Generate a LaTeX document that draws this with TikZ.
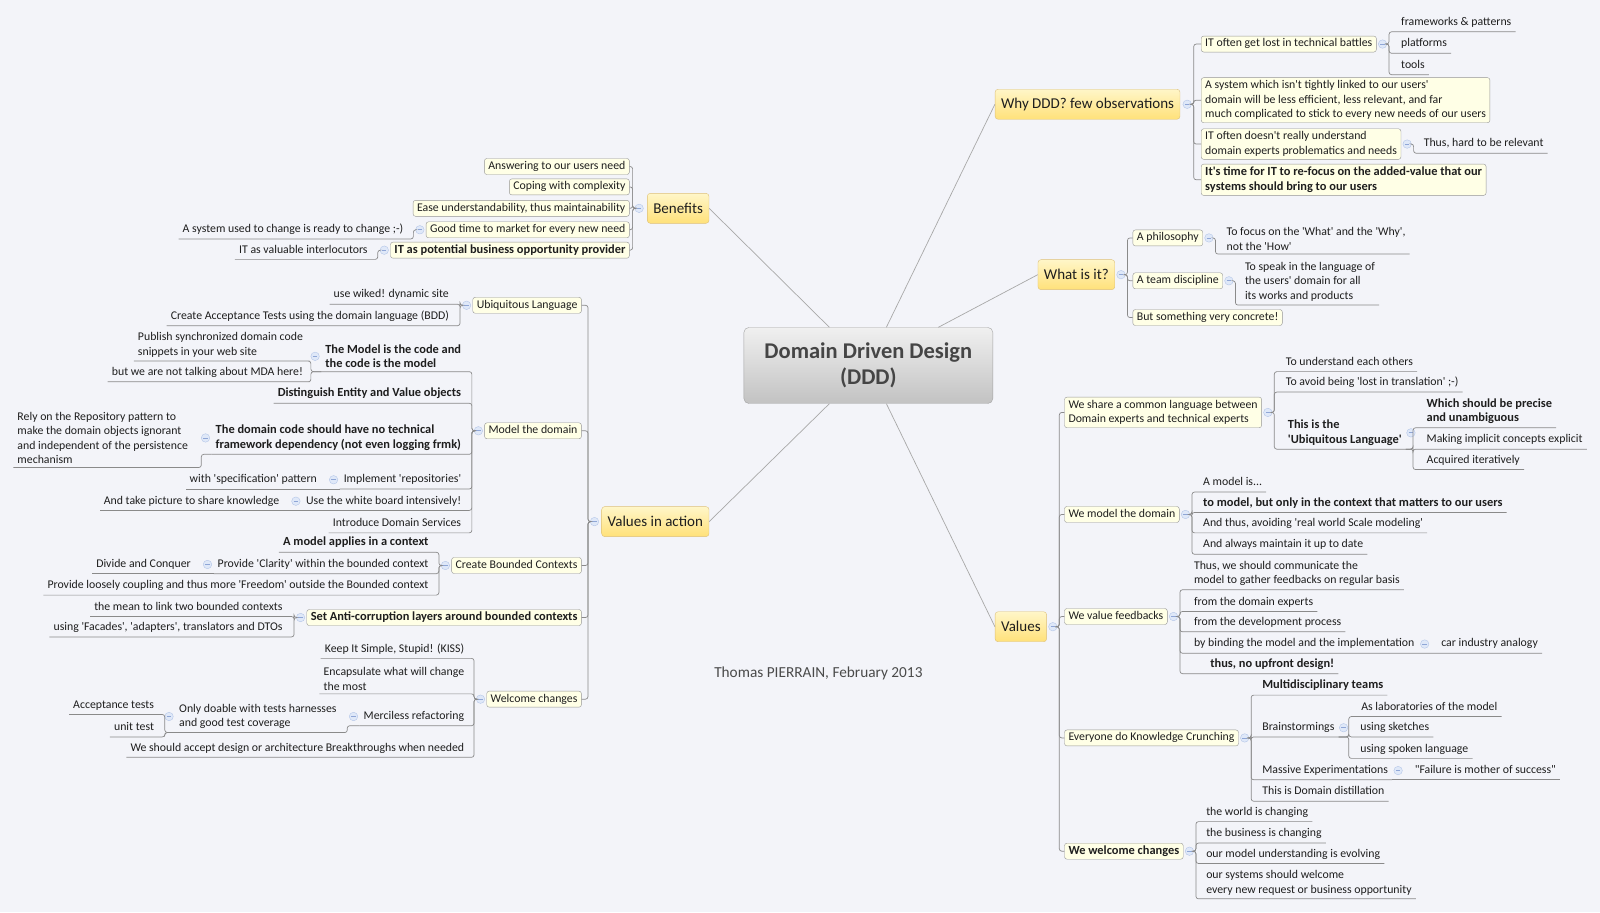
\documentclass[tikz,border=0pt]{standalone}
\usepackage{fontspec}
\setmainfont{Carlito}[Ligatures=TeXOff]

\definecolor{paper}{HTML}{F3F4F9}
\definecolor{rootline}{HTML}{A2A2A2}
\definecolor{roottop}{HTML}{F0F0F0}
\definecolor{rootbot}{HTML}{C2C2C2}
\definecolor{roottext}{HTML}{454545}
\definecolor{topicline}{HTML}{DDC07A}
\definecolor{topictop}{HTML}{FFF6C8}
\definecolor{topicbot}{HTML}{FFE17A}
\definecolor{subline}{HTML}{959595}
\definecolor{subfill}{HTML}{FFFFE6}
\definecolor{wiregray}{HTML}{8A8A8A}
\definecolor{spokegray}{HTML}{A8A8A8}
\definecolor{togline}{HTML}{B4C6E8}
\definecolor{togfill}{HTML}{DFE8F8}
\definecolor{togbar}{HTML}{8FA6D6}
\definecolor{ink}{HTML}{1E1E1E}
\definecolor{signgray}{HTML}{4A4A4A}

\newcommand{\leaffont}{\fontsize{11.8}{14.5}\selectfont}
\newcommand{\hotfont}{\fontsize{12.4}{14.5}\selectfont\bfseries}

\tikzset{
  root/.style={draw=rootline, rounded corners=5pt, top color=roottop, bottom color=rootbot,
    text=roottext, font=\fontsize{22.5}{26.5}\selectfont\bfseries, align=center,
    minimum width=249pt, minimum height=76pt},
  topic/.style={draw=topicline, rounded corners=3pt, top color=topictop, bottom color=topicbot,
    text=ink, font=\fontsize{15}{18}\selectfont, inner xsep=6pt, minimum height=30pt},
  sub/.style={draw=subline, rounded corners=2.5pt, fill=subfill, text=ink, font=\leaffont,
    inner xsep=4pt, inner ysep=2.5pt, text height=8.4pt, text depth=2.6pt},
  subml/.style={draw=subline, rounded corners=2.5pt, fill=subfill, text=ink, font=\leaffont,
    inner xsep=4pt, inner ysep=3pt, align=left},
  leaf/.style={text=ink, font=\leaffont, inner xsep=4pt, inner ysep=3.5pt,
    text height=8.4pt, text depth=2.6pt},
  leafml/.style={text=ink, font=\leaffont, inner xsep=4pt, inner ysep=3.5pt, align=left},
  hot/.style={font=\hotfont},
  toggle/.style={circle, draw=togline, fill=togfill, inner sep=0pt, minimum size=8.5pt,
    path picture={\draw[togbar, line width=0.8pt]
      ([xshift=-2.2pt]path picture bounding box.center) --
      ([xshift=2.2pt]path picture bounding box.center);}},
  wire/.style={draw=wiregray, line width=0.7pt, rounded corners=2.5pt},
  spoke/.style={draw=spokegray, line width=0.7pt},
  signature/.style={text=signgray, font=\fontsize{15.3}{18}\selectfont}
}

\begin{document}
\begin{tikzpicture}[x=1.0204pt, y=-1.0204pt]
  % Draw the background
  \fill[paper] (0,0) rectangle (1568,894);
  \useasboundingbox (0,0) rectangle (1568,894);

  \begin{scope}[yshift=-1.2pt]
  % Draw the central topic and the main topics
  \node[root] (ddd) at (851,357) {Domain Driven Design\\(DDD)};
  \node[topic, anchor=west] (why) at (975,101) {Why DDD? few observations};
  \node[topic, anchor=west] (what) at (1017,268) {What is it?};
  \node[topic, anchor=west] (values) at (975,613) {Values};
  \node[topic, anchor=east] (benefits) at (695,203) {Benefits};
  \node[topic, anchor=east] (action) at (695,510) {Values in action};

  \node[signature] (author) at (802,659) {Thomas PIERRAIN, February 2013};

  % Draw the spokes from the central topic
  \draw[spoke] ([xshift=-39pt]ddd.north) -- (benefits.east);
  \draw[spoke] ([xshift=18pt]ddd.north) -- (why.west);
  \draw[spoke] ([xshift=70pt]ddd.north) -- (what.west);
  \draw[spoke] ([xshift=-39pt]ddd.south) -- (action.east);
  \draw[spoke] ([xshift=18pt]ddd.south) -- (values.west);

  % Draw the toggles of the main topics
  \node[toggle] (t-why) at ([xshift=7pt]why.east) {};
  \node[toggle] (t-what) at ([xshift=6pt]what.east) {};
  \node[toggle] (t-values) at ([xshift=6pt]values.east) {};
  \node[toggle] (t-benefits) at ([xshift=-8pt]benefits.west) {};
  \node[toggle] (t-action) at ([xshift=-7pt]action.west) {};

  % Branch: Why DDD? few observations
  \node[sub, anchor=west] (lost) at (1177,42) {IT often get lost in technical battles};
  \node[subml, anchor=west] (linked) at (1177,97) {A system which isn't tightly linked to our users'\\domain will be less efficient, less relevant, and far\\much complicated to stick to every new needs of our users};
  \node[subml, anchor=west] (understand) at (1177,140) {IT often doesn't really understand\\domain experts problematics and needs};
  \node[subml, hot, anchor=west] (refocus) at (1177,175) {It's time for IT to re-focus on the added-value that our\\systems should bring to our users};
  \draw[wire] (t-why.east) -- ++(2,0) |- (lost.west);
  \draw[wire] (t-why.east) -- ++(2,0) |- (linked.west);
  \draw[wire] (t-why.east) -- ++(2,0) |- (understand.west);
  \draw[wire] (t-why.east) -- ++(2,0) |- (refocus.west);

  \node[toggle] (t-lost) at ([xshift=6pt]lost.east) {};
  \node[leaf, anchor=west] (frameworks) at (1369,21) {frameworks \& patterns};
  \node[leaf, anchor=west] (platforms) at (1369,42) {platforms};
  \node[leaf, anchor=west] (tools) at (1369,63) {tools};
  \draw[wire] (t-lost.east) -- ++(2,0) |- (frameworks.south west) -- (frameworks.south east);
  \draw[wire] (t-lost.east) -- ++(2,0) |- (platforms.south west) -- (platforms.south east);
  \draw[wire] (t-lost.east) -- ++(2,0) |- (tools.south west) -- (tools.south east);

  \node[toggle] (t-understand) at ([xshift=6pt]understand.east) {};
  \node[leaf, anchor=west] (relevant) at ([xshift=8pt]t-understand.east) {Thus, hard to be relevant};
  \draw[wire] (t-understand.east) -- ++(2,0) |- (relevant.south west) -- (relevant.south east);

  % Branch: What is it?
  \node[sub, anchor=west] (philosophy) at (1110,232) {A philosophy};
  \node[sub, anchor=west] (discipline) at (1110,274) {A team discipline};
  \node[sub, anchor=west] (concrete) at (1110,310) {But something very concrete!};
  \draw[wire] (t-what.east) -- ++(2,0) |- (philosophy.west);
  \draw[wire] (t-what.east) -- ++(2,0) |- (discipline.west);
  \draw[wire] (t-what.east) -- ++(2,0) |- (concrete.west);

  \node[toggle] (t-philosophy) at ([xshift=6pt]philosophy.east) {};
  \node[leafml, anchor=west] (focus) at (1198,233) {To focus on the 'What' and the 'Why',\\not the 'How'};
  \draw[wire] (t-philosophy.east) -- ++(2,0) |- (focus.south west) -- (focus.south east);

  \node[toggle] (t-discipline) at ([xshift=6pt]discipline.east) {};
  \node[leafml, anchor=west] (speak) at (1216,275) {To speak in the language of\\the users' domain for all\\its works and products};
  \draw[wire] (t-discipline.east) -- ++(2,0) |- (speak.south west) -- (speak.south east);

  % Branch: Values
  \node[subml, anchor=west] (share) at (1043,403) {We share a common language between\\Domain experts and technical experts};
  \node[sub, anchor=west] (model) at (1043,503) {We model the domain};
  \node[sub, anchor=west] (feedbacks) at (1043,603) {We value feedbacks};
  \node[sub, anchor=west] (crunching) at (1043,722) {Everyone do Knowledge Crunching};
  \node[sub, hot, anchor=west] (welcome) at (1043,833) {We welcome changes};
  \draw[wire] (t-values.east) -- ++(2,0) |- (share.west);
  \draw[wire] (t-values.east) -- ++(2,0) |- (model.west);
  \draw[wire] (t-values.east) -- ++(2,0) |- (feedbacks.west);
  \draw[wire] (t-values.east) -- ++(2,0) |- (crunching.west);
  \draw[wire] (t-values.east) -- ++(2,0) |- (welcome.west);

  \node[toggle] (t-share) at ([xshift=6pt]share.east) {};
  \node[leaf, anchor=west] (others) at (1256,354) {To understand each others};
  \node[leaf, anchor=west] (translation) at (1256,374) {To avoid being 'lost in translation' ;-)};
  \node[leafml, hot, anchor=west] (ubiq) at (1258,423) {This is the\\'Ubiquitous Language'};
  \draw[wire] (t-share.east) -- ++(2,0) |- (others.south west) -- (others.south east);
  \draw[wire] (t-share.east) -- ++(2,0) |- (translation.south west) -- (translation.south east);
  \draw[wire] (t-share.east) -- ++(2,0) |- (ubiq.south west) -- (ubiq.south east);

  \node[toggle] (t-ubiq) at ([xshift=5pt]ubiq.east) {};
  \node[leafml, hot, anchor=west] (precise) at (1394,402) {Which should be precise\\and unambiguous};
  \node[leaf, anchor=west] (implicit) at (1394,430) {Making implicit concepts explicit};
  \node[leaf, anchor=west] (iterative) at (1394,450) {Acquired iteratively};
  \draw[wire] (ubiq.south east) -- ++(7,0) |- (precise.south west) -- (precise.south east);
  \draw[wire] (ubiq.south east) -- ++(7,0) |- (implicit.south west) -- (implicit.south east);
  \draw[wire] (ubiq.south east) -- ++(7,0) |- (iterative.south west) -- (iterative.south east);

  \node[toggle] (t-model) at ([xshift=6pt]model.east) {};
  \node[leaf, anchor=west] (modelis) at (1175,472) {A model is...};
  \node[leaf, hot, anchor=west] (matters) at (1175,492) {to model, but only in the context that matters to our users};
  \node[leaf, anchor=west] (scale) at (1175,512) {And thus, avoiding 'real world Scale modeling'};
  \node[leaf, anchor=west] (uptodate) at (1175,533) {And always maintain it up to date};
  \draw[wire] (t-model.east) -- ++(2,0) |- (modelis.south west) -- (modelis.south east);
  \draw[wire] (t-model.east) -- ++(2,0) |- (matters.south west) -- (matters.south east);
  \draw[wire] (t-model.east) -- ++(2,0) |- (scale.south west) -- (scale.south east);
  \draw[wire] (t-model.east) -- ++(2,0) |- (uptodate.south west) -- (uptodate.south east);

  \node[toggle] (t-feedbacks) at ([xshift=6pt]feedbacks.east) {};
  \node[leafml, anchor=west] (communicate) at (1166,561) {Thus, we should communicate the\\model to gather feedbacks on regular basis};
  \node[leaf, anchor=west] (experts) at (1166,589) {from the domain experts};
  \node[leaf, anchor=west] (process) at (1166,609) {from the development process};
  \node[leaf, anchor=west] (binding) at (1166,630) {by binding the model and the implementation};
  \node[leaf, hot, anchor=west] (upfront) at (1182,650) {thus, no upfront design!};
  \node[toggle] (t-binding) at ([xshift=6pt]binding.east) {};
  \node[leaf, anchor=west] (car) at ([xshift=8pt]t-binding.east) {car industry analogy};
  \draw[wire] (t-feedbacks.east) -- ++(2,0) |- (communicate.south west) -- (communicate.south east);
  \draw[wire] (t-feedbacks.east) -- ++(2,0) |- (experts.south west) -- (experts.south east);
  \draw[wire] (t-feedbacks.east) -- ++(2,0) |- (process.south west) -- (process.south east);
  \draw[wire] (t-feedbacks.east) -- ++(2,0) |- (binding.south west) -- (car.south east);
  \draw[wire] (t-feedbacks.east) -- ++(2,0) |- (upfront.south west) -- (upfront.south east);

  \node[toggle] (t-crunching) at ([xshift=6pt]crunching.east) {};
  \node[leaf, hot, anchor=west] (teams) at (1233,671) {Multidisciplinary teams};
  \node[leaf, anchor=west] (brain) at (1233,712) {Brainstormings};
  \node[leaf, anchor=west] (massive) at (1233,754) {Massive Experimentations};
  \node[leaf, anchor=west] (distillation) at (1233,775) {This is Domain distillation};
  \draw[wire] (t-crunching.east) -- ++(2,0) |- (teams.south west) -- (teams.south east);
  \draw[wire] (t-crunching.east) -- ++(2,0) |- (brain.south west) -- (brain.south east);
  \draw[wire] (t-crunching.east) -- ++(2,0) |- (massive.south west) -- (massive.south east);
  \draw[wire] (t-crunching.east) -- ++(2,0) |- (distillation.south west) -- (distillation.south east);

  \node[toggle] (t-brain) at ([xshift=5pt]brain.east) {};
  \node[leaf, anchor=west] (laboratories) at (1330,692) {As laboratories of the model};
  \node[leaf, anchor=west] (sketches) at (1329,712) {using sketches};
  \node[leaf, anchor=west] (spoken) at (1329,733) {using spoken language};
  \draw[wire] (brain.south east) -- ++(10,0) |- (laboratories.south west) -- (laboratories.south east);
  \draw[wire] (brain.south east) -- ++(10,0) |- (sketches.south west) -- (sketches.south east);
  \draw[wire] (brain.south east) -- ++(10,0) |- (spoken.south west) -- (spoken.south east);

  \node[toggle] (t-massive) at ([xshift=6pt]massive.east) {};
  \node[leaf, anchor=west] (failure) at ([xshift=8pt]t-massive.east) {"Failure is mother of success"};
  \draw[wire] (massive.south east) -- (failure.south east);

  \node[toggle] (t-welcome) at ([xshift=6pt]welcome.east) {};
  \node[leaf, anchor=west] (world) at (1178,795) {the world is changing};
  \node[leaf, anchor=west] (business) at (1178,816) {the business is changing};
  \node[leaf, anchor=west] (evolving) at (1178,836) {our model understanding is evolving};
  \node[leafml, anchor=west] (request) at (1178,864) {our systems should welcome\\every new request or business opportunity};
  \draw[wire] (t-welcome.east) -- ++(2,0) |- (world.south west) -- (world.south east);
  \draw[wire] (t-welcome.east) -- ++(2,0) |- (business.south west) -- (business.south east);
  \draw[wire] (t-welcome.east) -- ++(2,0) |- (evolving.south west) -- (evolving.south east);
  \draw[wire] (t-welcome.east) -- ++(2,0) |- (request.south west) -- (request.south east);

  % Branch: Benefits
  \node[sub, anchor=east] (answering) at (617,162) {Answering to our users need};
  \node[sub, anchor=east] (coping) at (617,182) {Coping with complexity};
  \node[sub, anchor=east] (ease) at (617,203) {Ease understandability, thus maintainability};
  \node[sub, anchor=east] (market) at (617,224) {Good time to market for every new need};
  \node[sub, hot, anchor=east] (provider) at (617,244) {IT as potential business opportunity provider};
  \draw[wire] (t-benefits.west) -- ++(-2,0) |- (answering.east);
  \draw[wire] (t-benefits.west) -- ++(-2,0) |- (coping.east);
  \draw[wire] (t-benefits.west) -- ++(-2,0) |- (ease.east);
  \draw[wire] (t-benefits.west) -- ++(-2,0) |- (market.east);
  \draw[wire] (t-benefits.west) -- ++(-2,0) |- (provider.east);

  \node[toggle] (t-market) at ([xshift=-6pt]market.west) {};
  \node[leaf, anchor=east] (ready) at ([xshift=-8pt]t-market.west) {A system used to change is ready to change ;-)};
  \draw[wire] (t-market.west) -- ++(-2,0) |- (ready.south east) -- (ready.south west);

  \node[toggle] (t-provider) at ([xshift=-6pt]provider.west) {};
  \node[leaf, anchor=east] (interlocutors) at ([xshift=-8pt]t-provider.west) {IT as valuable interlocutors};
  \draw[wire] (t-provider.west) -- ++(-2,0) |- (interlocutors.south east) -- (interlocutors.south west);

  % Branch: Values in action
  \node[sub, anchor=east] (ul) at (570,298) {Ubiquitous Language};
  \node[sub, anchor=east] (domain) at (570,421) {Model the domain};
  \node[sub, anchor=east] (bounded) at (570,553) {Create Bounded Contexts};
  \node[sub, hot, anchor=east] (anticorruption) at (570,604) {Set Anti-corruption layers around bounded contexts};
  \node[sub, anchor=east] (changes) at (570,684) {Welcome changes};
  \draw[wire] (t-action.west) -- ++(-2,0) |- (ul.east);
  \draw[wire] (t-action.west) -- ++(-2,0) |- (domain.east);
  \draw[wire] (t-action.west) -- ++(-2,0) |- (bounded.east);
  \draw[wire] (t-action.west) -- ++(-2,0) |- (anticorruption.east);
  \draw[wire] (t-action.west) -- ++(-2,0) |- (changes.east);

  \node[toggle] (t-ul) at ([xshift=-6pt]ul.west) {};
  \node[leaf, anchor=east] (wiki) at (444,288) {use wiked! dynamic site};
  \node[leaf, anchor=east] (bdd) at (444,309) {Create Acceptance Tests using the domain language (BDD)};
  \draw[wire] (t-ul.west) -- ++(-2,0) |- (wiki.south east) -- (wiki.south west);
  \draw[wire] (t-ul.west) -- ++(-2,0) |- (bdd.south east) -- (bdd.south west);

  \node[toggle] (t-domain) at ([xshift=-6pt]domain.west) {};
  \node[leafml, hot, anchor=east] (codemodel) at (456,348) {The Model is the code and\\the code is the model};
  \node[leaf, hot, anchor=east] (entity) at (456,385) {Distinguish Entity and Value objects};
  \node[leafml, hot, anchor=east] (nodeps) at (456,428) {The domain code should have no technical\\framework dependency (not even logging frmk)};
  \node[leaf, anchor=east] (repos) at (456,469) {Implement 'repositories'};
  \node[leaf, anchor=east] (board) at (456,490) {Use the white board intensively!};
  \node[leaf, anchor=east] (services) at (456,512) {Introduce Domain Services};
  \draw[wire] (t-domain.west) -- ++(-2,0) |- (codemodel.south east) -- (codemodel.south west);
  \draw[wire] (t-domain.west) -- ++(-2,0) |- (entity.south east) -- (entity.south west);
  \draw[wire] (t-domain.west) -- ++(-2,0) |- (nodeps.south east) -- (nodeps.south west);
  \draw[wire] (t-domain.west) -- ++(-2,0) |- (repos.south east) -- (repos.south west);
  \draw[wire] (t-domain.west) -- ++(-2,0) |- (board.south east) -- (board.south west);
  \draw[wire] (t-domain.west) -- ++(-2,0) |- (services.south east) -- (services.south west);

  \node[toggle] (t-codemodel) at ([xshift=-6pt]codemodel.west) {};
  \node[leafml, anchor=east] (publish) at (301,337) {Publish synchronized domain code\\snippets in your web site};
  \node[leaf, anchor=east] (mda) at (301,364) {but we are not talking about MDA here!};
  \draw[wire] (codemodel.south west) -- ++(-10,0) |- (publish.south east) -- (publish.south west);
  \draw[wire] (codemodel.south west) -- ++(-10,0) |- (mda.south east) -- (mda.south west);

  \node[toggle] (t-nodeps) at ([xshift=-6pt]nodeps.west) {};
  \node[leafml, anchor=west] (repository) at (13,428) {Rely on the Repository pattern to\\make the domain objects ignorant\\and independent of the persistence\\mechanism};
  \draw[wire] (nodeps.south west) -- ++(-10,0) |- (repository.south east) -- (repository.south west);

  \node[toggle] (t-repos) at ([xshift=-6pt]repos.west) {};
  \node[leaf, anchor=east] (specification) at ([xshift=-8pt]t-repos.west) {with 'specification' pattern};
  \draw[wire] (repos.south west) -- (specification.south west);

  \node[toggle] (t-board) at ([xshift=-6pt]board.west) {};
  \node[leaf, anchor=east] (picture) at ([xshift=-8pt]t-board.west) {And take picture to share knowledge};
  \draw[wire] (board.south west) -- (picture.south west);

  \node[toggle] (t-bounded) at ([xshift=-6pt]bounded.west) {};
  \node[leaf, hot, anchor=east] (context) at (424,531) {A model applies in a context};
  \node[leaf, anchor=east] (clarity) at (424,552) {Provide 'Clarity' within the bounded context};
  \node[leaf, anchor=east] (freedom) at (424,573) {Provide loosely coupling and thus more 'Freedom' outside the Bounded context};
  \draw[wire] (t-bounded.west) -- ++(-2,0) |- (context.south east) -- (context.south west);
  \draw[wire] (t-bounded.west) -- ++(-2,0) |- (clarity.south east) -- (clarity.south west);
  \draw[wire] (t-bounded.west) -- ++(-2,0) |- (freedom.south east) -- (freedom.south west);

  \node[toggle] (t-clarity) at ([xshift=-6pt]clarity.west) {};
  \node[leaf, anchor=east] (conquer) at ([xshift=-8pt]t-clarity.west) {Divide and Conquer};
  \draw[wire] (clarity.south west) -- (conquer.south west);

  \node[toggle] (t-anticorruption) at ([xshift=-6pt]anticorruption.west) {};
  \node[leaf, anchor=east] (link) at (281,594) {the mean to link two bounded contexts};
  \node[leaf, anchor=east] (facades) at (281,614) {using 'Facades', 'adapters', translators and DTOs};
  \draw[wire] (t-anticorruption.west) -- ++(-2,0) |- (link.south east) -- (link.south west);
  \draw[wire] (t-anticorruption.west) -- ++(-2,0) |- (facades.south east) -- (facades.south west);

  \node[toggle] (t-changes) at ([xshift=-6pt]changes.west) {};
  \node[leaf, anchor=east] (kiss) at (459,635) {Keep It Simple, Stupid! (KISS)};
  \node[leafml, anchor=east] (encapsulate) at (459,664) {Encapsulate what will change\\the most};
  \node[leaf, anchor=east] (merciless) at (459,701) {Merciless refactoring};
  \node[leaf, anchor=east] (breakthroughs) at (459,732) {We should accept design or architecture Breakthroughs when needed};
  \draw[wire] (t-changes.west) -- ++(-2,0) |- (kiss.south east) -- (kiss.south west);
  \draw[wire] (t-changes.west) -- ++(-2,0) |- (encapsulate.south east) -- (encapsulate.south west);
  \draw[wire] (t-changes.west) -- ++(-2,0) |- (merciless.south east) -- (merciless.south west);
  \draw[wire] (t-changes.west) -- ++(-2,0) |- (breakthroughs.south east) -- (breakthroughs.south west);

  \node[toggle] (t-merciless) at ([xshift=-6pt]merciless.west) {};
  \node[leafml, anchor=east] (doable) at (334,701) {Only doable with tests harnesses\\and good test coverage};
  \draw[wire] (merciless.south west) -- ++(-12,0) |- (doable.south east) -- (doable.south west);

  \node[toggle] (t-doable) at ([xshift=-6pt]doable.west) {};
  \node[leaf, anchor=east] (acceptance) at (155,690) {Acceptance tests};
  \node[leaf, anchor=east] (unit) at (155,712) {unit test};
  \draw[wire] (doable.south west) -- ++(-10,0) |- (acceptance.south east) -- (acceptance.south west);
  \draw[wire] (doable.south west) -- ++(-10,0) |- (unit.south east) -- (unit.south west);
  \end{scope}
\end{tikzpicture}
\end{document}
